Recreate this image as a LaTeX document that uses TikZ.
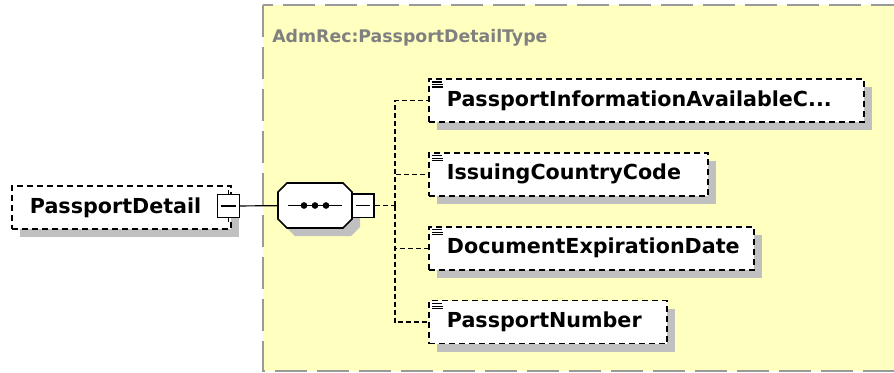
\documentclass[tikz,border=0pt]{standalone}
\usepackage{fontspec}
\setsansfont{DejaVu Sans}
\definecolor{typeyellow}{HTML}{FFFFC0}
\definecolor{typegray}{HTML}{9A9A9A}
\definecolor{titlegray}{HTML}{808080}
\definecolor{shadowgray}{HTML}{C0C0C0}
\usepackage{tikz}
\usetikzlibrary{positioning, shadows}

\begin{document}
\begin{tikzpicture}[
    x=0.75pt, y=-0.75pt,
    elem/.style={rectangle, draw=black, line width=1.4pt, dash pattern=on 4.5pt off 3pt, fill=white, minimum height=32.25pt, inner xsep=13.5pt, inner ysep=0pt, text width=#1, align=left, font=\sffamily\bfseries\fontsize{15.5pt}{18pt}\selectfont, drop shadow={shadow xshift=6pt, shadow yshift=-6pt, fill=shadowgray, opacity=1}},
    collapse/.style={rectangle, draw=black, line width=1pt, fill=white, minimum width=16.5pt, minimum height=17.5pt, inner sep=0pt},
    seqbox/.style={rectangle, minimum width=55.5pt, minimum height=33.75pt, inner sep=0pt},
    link/.style={line width=0.9pt},
    conn/.style={line width=0.9pt, dash pattern=on 3.75pt off 2.25pt},
    title/.style={font=\sffamily\bfseries\fontsize{13pt}{15pt}\selectfont, text=titlegray, inner sep=0pt},
]
    \useasboundingbox (0,0) rectangle (894,372);
    \clip (0,0) rectangle (894,372);

    % complex type frame
    \path[fill=typeyellow, draw=typegray, line width=1.9pt, dash pattern=on 24pt off 7.5pt] (263,5) rectangle (910,371);
    \node[title, anchor=base west] (typename) at (272,42) {AdmRec:PassportDetailType};

    % root element
    \node[elem=137.25pt, anchor=north west] (root) at (11,185) {PassportDetail};
    \node[collapse] (col1) at (228.5,206) {\rule[-0.6pt]{11pt}{1.2pt}};
    \draw[link] (col1.north) -- ++(0,-4);
    \draw[link] (col1.south) -- ++(0,4);

    % sequence compositor
    \node[seqbox] (seq) at (315,205.5) {};
    \draw[link] (col1) -- (seq);
    \begin{scope}[shift={(seq.center)}]
        \fill[shadowgray, shift={(8,8)}] (-28,-22.5) -- (28,-22.5) -- (37,-13.5) -- (37,13.5) -- (28,22.5) -- (-28,22.5) -- (-37,13.5) -- (-37,-13.5) -- cycle;
        \draw[fill=white, line width=1.3pt] (-28,-22.5) -- (28,-22.5) -- (37,-13.5) -- (37,13.5) -- (28,22.5) -- (-28,22.5) -- (-37,13.5) -- (-37,-13.5) -- cycle;
        \draw[link] (-27,0) -- (27,0);
        \foreach \dx in {-11,0,11}
            \fill (\dx,0) circle (2.5pt);
    \end{scope}
    \node[collapse, right=-0.6pt of seq] (col2) {\rule[-0.6pt]{11pt}{1.2pt}};

    % child elements
    \node[elem=299.25pt, anchor=north west] (c1) at (428,78) {PassportInformationAvailableC...};
    \node[elem=182.25pt, below=21.75pt of c1.south west, anchor=north west] (c2) {IssuingCountryCode};
    \node[elem=216.75pt, below=21.75pt of c2.south west, anchor=north west] (c3) {DocumentExpirationDate};
    \node[elem=151.5pt, below=21.75pt of c3.south west, anchor=north west] (c4) {PassportNumber};

    % sequence branches
    \coordinate (bus) at (395,205.5);
    \draw[conn] (col2) -- (bus);
    \foreach \c in {c1,c2,c3,c4}
        \draw[conn] (bus) |- (\c);

    % simple content marks
    \foreach \c in {c1,c2,c3,c4} {
        \draw[link] ([shift={(4,4)}]\c.north west) -- ++(10,0);
        \draw[link] ([shift={(4,6.5)}]\c.north west) -- ++(11,0);
        \draw[link] ([shift={(4,9)}]\c.north west) -- ++(11,0);
    }
\end{tikzpicture}
\end{document}
